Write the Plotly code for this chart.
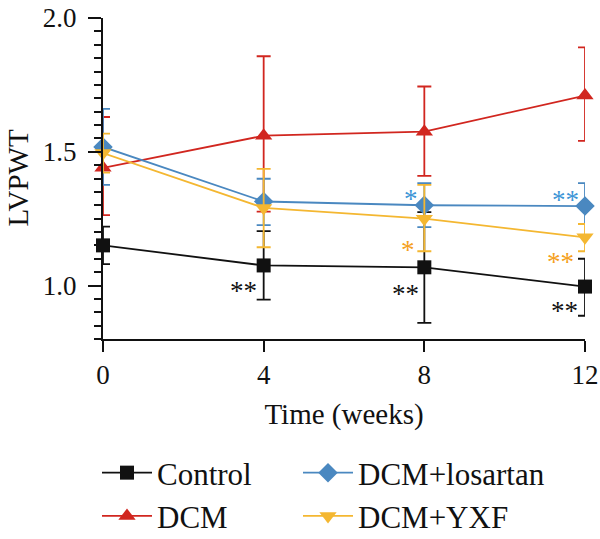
import plotly.graph_objects as go

weeks = [0, 4, 8, 12]

control = [1.15, 1.075, 1.068, 0.996]
control_up = [0.07, 0.128, 0.206, 0.104]
control_dn = [0.07, 0.128, 0.208, 0.109]

dcm = [1.44, 1.56, 1.575, 1.71]
dcm_up = [0.19, 0.297, 0.169, 0.18]
dcm_dn = [0.177, 0.284, 0.165, 0.169]

losartan = [1.518, 1.314, 1.30, 1.297]
losartan_up = [0.142, 0.085, 0.083, 0.086]
losartan_dn = [0.142, 0.088, 0.082, 0.067]

yxf = [1.495, 1.29, 1.25, 1.18]
yxf_up = [0.073, 0.146, 0.126, 0.05]
yxf_dn = [0.073, 0.147, 0.122, 0.052]

# significance marks: (series, week index, text)
sig_series = ["Control", "Control", "Control", "DCM+losartan", "DCM+losartan", "DCM+YXF", "DCM+YXF"]
sig_week = [1, 2, 3, 2, 3, 2, 3]
sig_text = ["**", "**", "**", "*", "**", "*", "**"]

BLACK = "#111111"
RED = "#d1261f"
BLUE = "#4a88c0"
YELLOW = "#f4b731"
STAR_BLUE = "#3d95d6"
STAR_ORANGE = "#f5a020"

FONT = "'Liberation Serif', 'DejaVu Serif', 'Times New Roman', serif"

series = {
    "Control": (control, control_up, control_dn, BLACK, "square", 14, "legend"),
    "DCM": (dcm, dcm_up, dcm_dn, RED, "triangle-up", 15, "legend"),
    "DCM+losartan": (losartan, losartan_up, losartan_dn, BLUE, "diamond", 15, "legend2"),
    "DCM+YXF": (yxf, yxf_up, yxf_dn, YELLOW, "triangle-down", 15, "legend2"),
}

fig = go.Figure()
for name in ["Control", "DCM", "DCM+losartan", "DCM+YXF"]:
    vals, up, dn, col, sym, sz, lg = series[name]
    fig.add_trace(go.Scatter(
        x=weeks, y=vals, name=name, mode="lines+markers", legend=lg,
        line=dict(color=col, width=1.8),
        marker=dict(symbol=sym, size=sz, color=col, line=dict(width=0)),
        error_y=dict(type="data", symmetric=False, array=up, arrayminus=dn,
                     color=col, thickness=1.8, width=7),
        cliponaxis=False,
    ))

star_colors = {"Control": BLACK, "DCM+losartan": STAR_BLUE, "DCM+YXF": STAR_ORANGE}
star_offsets = {
    ("Control", 1): (-20, -26), ("Control", 2): (-19, -27), ("Control", 3): (-21, -24),
    ("DCM+losartan", 2): (-13, 6), ("DCM+losartan", 3): (-20, 6),
    ("DCM+YXF", 2): (-16, -31), ("DCM+YXF", 3): (-25, -25),
}
for s, wi, t in zip(sig_series, sig_week, sig_text):
    vals = series[s][0]
    dx, dy = star_offsets[(s, wi)]
    fig.add_annotation(x=weeks[wi], y=vals[wi], text=t, showarrow=False,
                       xshift=dx, yshift=dy, xanchor="center", yanchor="middle",
                       font=dict(family=FONT, size=27, color=star_colors[s]))

# y-axis title
fig.add_annotation(xref="paper", yref="paper", x=(17 - 103) / 482, y=0.5,
                   text="LVPWT", textangle=-90, showarrow=False,
                   xanchor="center", yanchor="middle",
                   font=dict(family=FONT, size=29, color="#111111"))

legend_common = dict(orientation="v", xanchor="left", yref="container", xref="container",
                     y=1 - 446 / 539, yanchor="top", itemwidth=50,
                     font=dict(family=FONT, size=31, color="#111111"),
                     bgcolor="rgba(0,0,0,0)", tracegroupgap=0)

fig.update_layout(
    width=600, height=539,
    margin=dict(l=103, r=15, t=18, b=200, autoexpand=False),
    plot_bgcolor="white", paper_bgcolor="white",
    font=dict(family=FONT, color="#111111"),
    showlegend=True,
    legend=dict(x=97 / 600, **legend_common),
    legend2=dict(x=298 / 600, **legend_common),
)
fig.update_xaxes(
    range=[0, 12], tickvals=weeks, ticktext=[str(w) for w in weeks],
    showline=True, linecolor="#111111", linewidth=2, ticks="outside",
    ticklen=11, tickwidth=2, tickcolor="#111111", showgrid=False, zeroline=False,
    automargin=False,
    tickfont=dict(family=FONT, size=27, color="#111111"),
    title=dict(text="Time (weeks)", font=dict(family=FONT, size=29, color="#111111"), standoff=14),
)
fig.update_yaxes(
    range=[0.8, 2.0], tickvals=[1.0, 1.5, 2.0], ticktext=["1.0", "1.5", "2.0"],
    showline=True, linecolor="#111111", linewidth=2, ticks="outside",
    ticklen=13, tickwidth=2, tickcolor="#111111", showgrid=False, zeroline=False,
    automargin=False, ticklabelstandoff=6,
    minor=dict(dtick=0.05, tick0=0.8, ticks="outside", ticklen=7, tickwidth=2, tickcolor="#111111", showgrid=False),
    tickfont=dict(family=FONT, size=27, color="#111111"),
)

fig.write_html("out.html")
